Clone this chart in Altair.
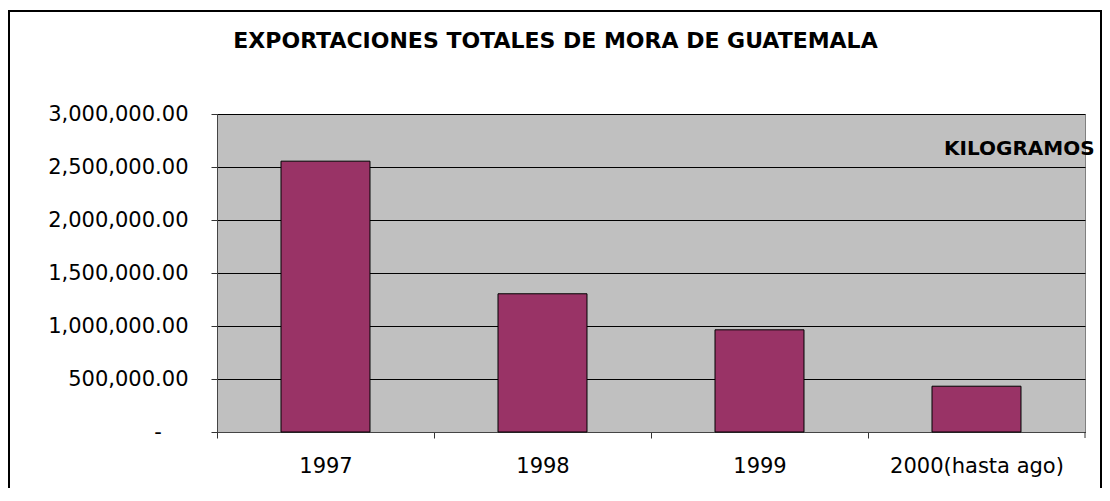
import altair as alt
import pandas as pd

# ---- data ----
years = ["1997", "1998", "1999", "2000(hasta ago)"]
kilos = [2555000, 1304000, 964000, 432000]
y_ticks = [0, 500000, 1000000, 1500000, 2000000, 2500000, 3000000]
title_text = ["EXPORTACIONES TOTALES DE MORA DE GUATEMALA"]
series_name = ["KILOGRAMOS"]

W, H = 868, 318
FONT = "DejaVu Sans"

df = pd.DataFrame({"year": years, "kilos": kilos})

bars = alt.Chart(df).mark_bar(
    color="#993366", stroke="#000000", strokeWidth=1
).encode(
    x=alt.X("year:N", sort=None,
            scale=alt.Scale(paddingInner=0.59, paddingOuter=0.295),
            axis=alt.Axis(title=None, labelAngle=0, labelFont=FONT, labelFontSize=21,
                          labelColor="#000000", tickSize=6, tickColor="#333333",
                          tickOffset=-W / 8, labelOffset=W / 8, labelPadding=17,
                          domainColor="#444444", grid=False)),
    y=alt.Y("kilos:Q",
            scale=alt.Scale(domain=[0, 3000000], nice=False),
            axis=alt.Axis(title=None, values=y_ticks,
                          labelExpr="datum.value == 0 ? '-\u00a0\u00a0\u00a0\u00a0\u200b' : format(datum.value, ',.2f')",
                          labelFont=FONT, labelFontSize=21, labelColor="#000000",
                          tickSize=6, tickColor="#333333", labelPadding=23,
                          domainColor="#444444", grid=True, gridColor="#000000",
                          gridWidth=1)),
)

one = pd.DataFrame({"t": title_text, "s": series_name})

title = alt.Chart(one).mark_text(
    font=FONT, fontWeight="bold", fontSize=22, align="center", baseline="alphabetic",
    color="#000000"
).encode(x=alt.value(338.5), y=alt.value(-66), text="t:N")

kilo_label = alt.Chart(one).mark_text(
    font=FONT, fontWeight="bold", fontSize=20, align="left", baseline="alphabetic",
    color="#000000"
).encode(x=alt.value(727), y=alt.value(41), text="s:N")

end_tick = alt.Chart(one).mark_rule(color="#333333", strokeWidth=1).encode(
    x=alt.value(W), y=alt.value(H), y2=alt.value(H + 6)
)

border = alt.Chart(one).mark_rect(
    filled=False, stroke="#000000", strokeWidth=2
).encode(
    x=alt.value(-208), x2=alt.value(884), y=alt.value(-103), y2=alt.value(420)
)

chart = alt.layer(bars, end_tick, title, kilo_label, border).properties(
    width=W, height=H,
    autosize=alt.AutoSizeParams(type="none"),
    padding={"left": 209, "top": 106, "right": 17, "bottom": 56},
).configure_view(
    fill="#C0C0C0", stroke="#808080", strokeWidth=1
)

chart.save("out.html", embed_options={"renderer": "svg", "actions": False})
